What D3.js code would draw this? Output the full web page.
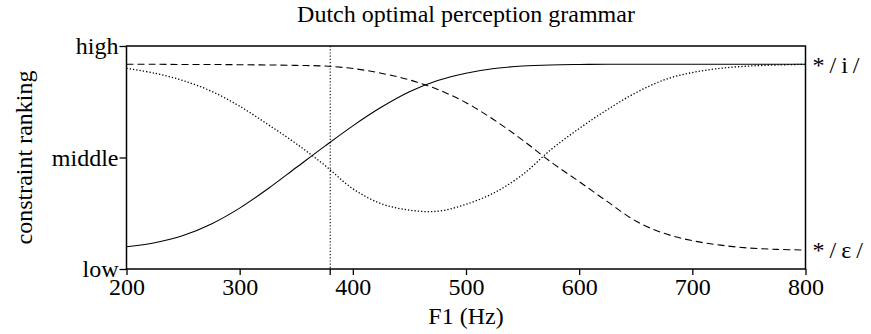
<!DOCTYPE html>
<html>
<head>
<meta charset="utf-8">
<script src="https://cdn.jsdelivr.net/npm/d3@7"></script>
<style>
  html, body { margin: 0; padding: 0; background: #fff; }
  svg text { font-family: "Liberation Serif", "Times New Roman", serif; fill: #000; }
</style>
</head>
<body>
<svg id="chart" width="871" height="334"></svg>
<script>
// ---- data ----
const freqs = [200, 225, 250, 275, 300, 325, 350, 375, 400, 425, 450, 475, 500, 525, 550, 575, 600, 625, 650, 675, 700, 725, 750, 775, 800];
const solidSeries = [10.0, 11.8, 15.0, 20.2, 27.3, 36.0, 45.5, 55.0, 64.2, 72.5, 79.5, 84.5, 87.8, 89.9, 91.0, 91.5, 91.7, 91.8, 91.8, 91.8, 91.8, 91.8, 91.8, 91.8, 91.8];
const dashedSeries = [91.8, 91.8, 91.7, 91.7, 91.6, 91.5, 91.3, 91.0, 89.9, 87.8, 84.8, 80.5, 74.6, 66.8, 57.8, 48.0, 39.2, 30.2, 21.5, 16.0, 12.7, 10.7, 9.4, 8.8, 8.5];
const dottedSeries = [90.0, 87.8, 84.5, 79.7, 73.0, 64.8, 56.2, 46.6, 36.0, 29.3, 26.4, 25.9, 29.0, 34.2, 42.3, 53.5, 63.0, 71.5, 79.0, 84.8, 88.1, 90.0, 91.0, 91.5, 91.8];
const xTicks = [200, 300, 400, 500, 600, 700, 800];
const yTickValues = [0, 50, 100];
const yTickLabels = ["low", "middle", "high"];
const boundaryF1 = [380];
const rightLabels = ["*/i/", "*/ε/"];
const rightLabelValues = [91.8, 8.5];
const title = "Dutch optimal perception grammar";
const xTitle = "F1 (Hz)";
const yTitle = "constraint ranking";

// ---- layout ----
const svg = d3.select("#chart");
const L = 126.5, R = 805.5, T = 46, B = 269;
const x = d3.scaleLinear().domain([200, 800]).range([L, R]);
const y = d3.scaleLinear().domain([0, 100]).range([B, T]);
const FS = 24;
const FONT = "Liberation Serif, Times New Roman, serif";

const line = d3.line().x((d, i) => x(freqs[i])).y(d => y(d)).curve(d3.curveCatmullRom.alpha(0.5));

const g = svg.append("g");

// curves
g.append("path").datum(solidSeries).attr("d", line)
  .attr("fill", "none").attr("stroke", "#000").attr("stroke-width", 1.1);
g.append("path").datum(dashedSeries).attr("d", line)
  .attr("fill", "none").attr("stroke", "#000").attr("stroke-width", 1.1)
  .attr("stroke-dasharray", "7,4");
g.append("path").datum(dottedSeries).attr("d", line)
  .attr("fill", "none").attr("stroke", "#000").attr("stroke-width", 1.3)
  .attr("stroke-dasharray", "1.3,2");

// vertical boundary
g.selectAll(".vb").data(boundaryF1).enter().append("line")
  .attr("x1", d => x(d)).attr("x2", d => x(d))
  .attr("y1", T).attr("y2", B)
  .attr("stroke", "#000").attr("stroke-width", 1.1).attr("stroke-dasharray", "1.2,2");
g.selectAll(".vbt").data(boundaryF1).enter().append("line")
  .attr("x1", d => x(d)).attr("x2", d => x(d))
  .attr("y1", B).attr("y2", B + 6)
  .attr("stroke", "#000").attr("stroke-width", 1.3);

// frame
g.append("rect").attr("x", L).attr("y", T).attr("width", R - L).attr("height", B - T)
  .attr("fill", "none").attr("stroke", "#000").attr("stroke-width", 1.5);

// x axis
const xAxis = d3.axisBottom(x).tickValues(xTicks).tickSize(6).tickPadding(3).tickFormat(d3.format("d"));
const xg = svg.append("g").attr("transform", `translate(0,${B})`).call(xAxis)
  .attr("font-family", FONT).attr("font-size", FS);
xg.select(".domain").remove();
xg.selectAll(".tick line").attr("stroke", "#000").attr("stroke-width", 1.3);
xg.selectAll(".tick text").attr("fill", "#000").attr("dy", "0.71em");

// y axis
const yAxis = d3.axisLeft(y).tickValues(yTickValues).tickSize(7).tickPadding(1)
  .tickFormat((d, i) => yTickLabels[i]);
const yg = svg.append("g").attr("transform", `translate(${L},0)`).call(yAxis)
  .attr("font-family", FONT).attr("font-size", FS);
yg.select(".domain").remove();
yg.selectAll(".tick line").attr("stroke", "#000").attr("stroke-width", 1.3);
yg.selectAll(".tick text").attr("fill", "#000");

// right labels
svg.selectAll(".rl").data(rightLabels).enter().append("text")
  .attr("x", R + 7).attr("y", (d, i) => y(rightLabelValues[i]))
  .attr("dy", "0.35em").attr("font-size", FS).attr("letter-spacing", "5px")
  .text(d => d);

// titles
svg.append("text").attr("x", (L + R) / 2).attr("y", 22).attr("text-anchor", "middle")
  .attr("font-size", FS).text(title);
svg.append("text").attr("x", (L + R) / 2).attr("y", 324).attr("text-anchor", "middle")
  .attr("font-size", FS).text(xTitle);
svg.append("text").attr("transform", `translate(32,${(T + B) / 2}) rotate(-90)`)
  .attr("text-anchor", "middle").attr("font-size", FS).text(yTitle);
</script>
</body>
</html>
